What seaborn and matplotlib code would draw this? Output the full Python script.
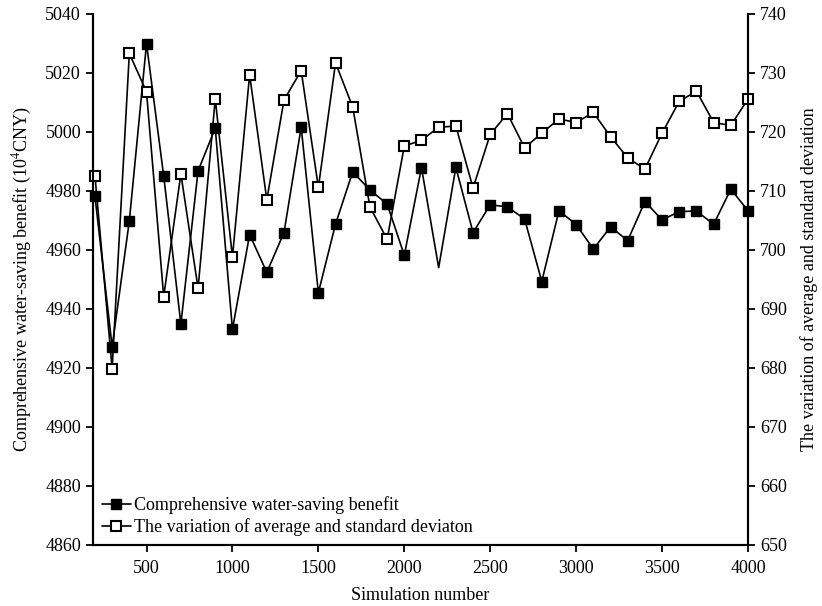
import pandas as pd
import seaborn as sns
import matplotlib.pyplot as plt
from matplotlib.lines import Line2D

# data
sim_number = list(range(200, 4100, 100))
benefit = [4978.2, 4927.2, 4969.8, 5029.9, 4985.1, 4934.9, 4986.8, 5001.3, 4933.1, 4965.2,
           4952.4, 4965.9, 5001.6, 4945.5, 4968.8, 4986.5, 4980.3, 4975.6, 4958.2, 4987.9,
           4954.0, 4988.0, 4965.9, 4975.3, 4974.6, 4970.5, 4949.3, 4973.3, 4968.6, 4960.3,
           4967.8, 4963.2, 4976.4, 4970.2, 4973.0, 4973.2, 4968.7, 4980.6, 4973.3]
variation = [712.6, 679.9, 733.3, 726.8, 692.1, 712.9, 693.5, 725.6, 698.8, 729.7,
             708.5, 725.4, 730.4, 710.6, 731.7, 724.2, 707.3, 701.8, 717.6, 718.6,
             720.8, 721.0, 710.5, 719.6, 723.1, 717.3, 719.8, 722.2, 721.6, 723.3,
             719.2, 715.6, 713.7, 719.8, 725.2, 726.9, 721.6, 721.1, 725.6]
benefit_no_marker = [2200]  # point drawn without a marker in the original
x_ticks = [500, 1000, 1500, 2000, 2500, 3000, 3500, 4000]
left_ticks = list(range(4860, 5041, 20))
right_ticks = list(range(650, 741, 10))
labels = ['Comprehensive water-saving benefit',
          'The variation of average and standard deviaton']

df = pd.DataFrame({'Simulation number': sim_number,
                   'benefit': benefit,
                   'variation': variation})

sns.set_style('ticks')
plt.rcParams['font.family'] = ['Liberation Serif', 'DejaVu Serif']
plt.rcParams['mathtext.fontset'] = 'stix'
plt.rcParams['text.color'] = 'black'
plt.rcParams['axes.labelcolor'] = 'black'
plt.rcParams['axes.edgecolor'] = 'black'
fs = 13

fig, ax = plt.subplots(figsize=(8.22, 6.06), dpi=100)
fig.subplots_adjust(left=0.113, right=0.910, bottom=0.1007, top=0.977)

mark_idx = [i for i, x in enumerate(sim_number) if x not in benefit_no_marker]

sns.lineplot(data=df, x='Simulation number', y='benefit', ax=ax, color='black',
             lw=1.2, marker='s', markersize=7, markerfacecolor='black',
             markeredgecolor='black', markeredgewidth=1.0, markevery=mark_idx,
             clip_on=False)

ax2 = ax.twinx()
sns.lineplot(data=df, x='Simulation number', y='variation', ax=ax2, color='black',
             lw=1.2, marker='s', markersize=7, markerfacecolor='white',
             markeredgecolor='black', markeredgewidth=1.5, clip_on=False)

ax.set_xlim(188, 4000)
ax.set_ylim(4860, 5040)
ax2.set_ylim(650, 740)
ax.set_xticks(x_ticks)
ax.set_yticks(left_ticks)
ax2.set_yticks(right_ticks)

for a in (ax, ax2):
    a.spines['top'].set_visible(False)
    for s in ('left', 'right', 'bottom'):
        a.spines[s].set_linewidth(1.5)
    a.tick_params(direction='out', length=5, width=1.3, labelsize=fs, colors='black')
ax.tick_params(axis='x', pad=6)

ax.set_xlabel('Simulation number', fontsize=fs, labelpad=7)
ax.set_ylabel('Comprehensive water-saving benefit (10$^4$CNY)', fontsize=fs, labelpad=8)
ax2.set_ylabel('The variation of average and standard deviation', fontsize=fs, labelpad=10)

handles = [Line2D([], [], color='black', lw=1.2, marker='s', markersize=7,
                  markerfacecolor='black', markeredgecolor='black'),
           Line2D([], [], color='black', lw=1.2, marker='s', markersize=7,
                  markerfacecolor='white', markeredgecolor='black', markeredgewidth=1.5)]
ax2.legend(handles, labels, loc='lower left', bbox_to_anchor=(0, 0), frameon=False,
           fontsize=fs, handlelength=1.6, handletextpad=0.2, borderaxespad=0.2,
           labelspacing=0.2, borderpad=0.3)

plt.savefig('out.png', dpi=100)
